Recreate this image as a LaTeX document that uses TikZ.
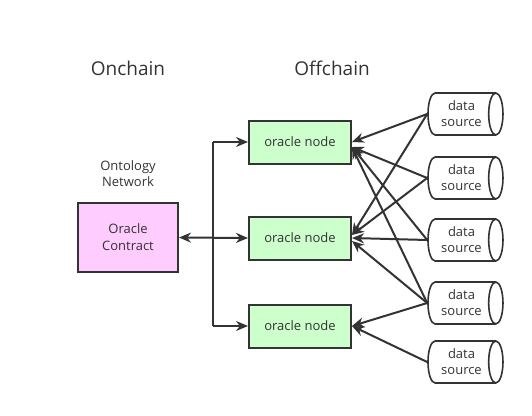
\documentclass[tikz,border=0pt]{standalone}
\usepackage{fontspec}
\setmainfont{Open Sans}
\usetikzlibrary{shapes.geometric,arrows.meta}
\definecolor{ink}{HTML}{333333}
\definecolor{nodegreen}{HTML}{CCFFCC}
\definecolor{contractpink}{HTML}{FFCCFF}
\begin{document}
\begin{tikzpicture}[x=1pt,y=-1pt,
  box/.style={draw=ink,line width=2pt,inner sep=0pt,font=\fontsize{13}{17}\selectfont,text=ink},
  orac/.style={box,fill=nodegreen,minimum width=102pt,minimum height=43pt},
  contract/.style={box,fill=contractpink,minimum width=100pt,minimum height=69pt,align=center},
  src/.style={cylinder,draw=ink,line width=1.6pt,fill=white,minimum width=42pt,minimum height=75pt,aspect=0.55,shape border rotate=0,inner sep=0pt,font=\fontsize{13}{16}\selectfont,text=ink,align=center},
  lbl/.style={text=ink,align=center},
  conn/.style={draw=ink,line width=2pt},
  arr/.style={conn,-{Stealth[length=12pt,width=10pt]}}]
\useasboundingbox (0,0) rectangle (532,415);

\node[lbl,font=\fontsize{19}{22}\selectfont] (on) at (128,68) {Onchain};
\node[lbl,font=\fontsize{19}{22}\selectfont] (off) at (332,68) {Offchain};
\node[lbl,font=\fontsize{13}{16}\selectfont] (net) at (128,174) {Ontology\\Network};

\node[contract] (c) at (128,237.5) {Oracle\\Contract};

\node[orac] (n1) at (300,142) {oracle node};
\node[orac] (n2) at (300,238) {oracle node};
\node[orac] (n3) at (300,326) {oracle node};

\node[src] (s1) at (461.5,114) {data\\source};
\node[src] (s2) at (461.5,178) {data\\source};
\node[src] (s3) at (461.5,240) {data\\source};
\node[src] (s4) at (461.5,303) {data\\source};
\node[src] (s5) at (461.5,362) {data\\source};

\coordinate (t1) at (213,142);
\coordinate (t3) at (213,326);

\draw[conn] (t1) -- (t3);
\draw[arr] (t1) -- (n1.west);
\draw[arr] (t3) -- (n3.west);
\draw[conn,{Stealth[length=12pt,width=10pt]}-{Stealth[length=12pt,width=10pt]}] (c.east) -- (n2.west);

\coordinate (e1a) at ([yshift=0pt]n1.east);
\coordinate (e1b) at ([yshift=-5pt]n1.east);
\coordinate (e2a) at ([yshift=3pt]n2.east);
\coordinate (e2b) at ([yshift=0pt]n2.east);
\coordinate (e2c) at ([yshift=-3pt]n2.east);

\draw[arr] (s1.west) -- (e1a);
\draw[arr] (s2.west) -- (e1b);
\draw[arr] (s3.west) -- (e1b);
\draw[arr] (s4.west) -- (e1b);

\draw[arr] (s1.west) -- (e2a);
\draw[arr] (s2.west) -- (e2a);
\draw[arr] (s3.west) -- (e2b);
\draw[arr] (s4.west) -- (e2c);

\draw[arr] (s4.west) -- (n3.east);
\draw[arr] (s5.west) -- (n3.east);
\end{tikzpicture}
\end{document}
